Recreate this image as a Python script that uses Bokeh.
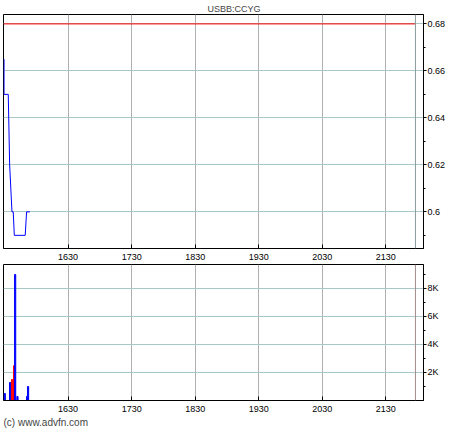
from bokeh.plotting import figure
from bokeh.models import FixedTicker, Range1d, Span, Title, ColumnDataSource
from bokeh.layouts import column
from bokeh.embed import file_html
from bokeh.resources import INLINE

FONT = "Liberation Sans"

title_text = "USBB:CCYG"
credit_text = "(c) www.advfn.com"

# time axis: minutes after midnight
price_time = [929.5, 929.5, 933.5, 934.8, 937.0, 938.2, 939.2, 949.5, 950.8, 954.0]
price_value = [0.665, 0.65, 0.65, 0.62, 0.60, 0.60, 0.59, 0.59, 0.60, 0.60]
ref_price = 0.68

vol_time = [930.2, 935.2, 937.1, 939.0, 940.0, 942.2, 951.3, 952.2]
vol_value = [500, 1290, 1500, 2480, 9000, 290, 290, 1000]
vol_color = ["#0000ff", "#0000ff", "#ff0000", "#ff0000", "#0000ff", "#0000ff", "#0000ff", "#0000ff"]

x_ticks = [990, 1050, 1110, 1170, 1230, 1290]
x_labels = ["1630", "1730", "1830", "1930", "2030", "2130"]
marker_time = 1318

price_ticks = [0.60, 0.62, 0.64, 0.66, 0.68]
price_labels = ["0.6", "0.62", "0.64", "0.66", "0.68"]
price_minor = [0.59, 0.61, 0.63, 0.65, 0.67]

vol_ticks = [2000, 4000, 6000, 8000]
vol_labels = ["2K", "4K", "6K", "8K"]
vol_minor = [1000, 3000, 5000, 7000, 9000]

x_range = Range1d(929.0, 1325.6)

VGRID = "#b0b0b0"
HGRID = "#a8c8c8"


def style_panel(p, yticks, ylabels, yminor):
    p.outline_line_color = "black"
    p.outline_line_width = 1
    p.background_fill_color = "white"
    p.border_fill_color = "white"

    xa = p.xaxis[0]
    xa.ticker = FixedTicker(ticks=x_ticks)
    xa.major_label_overrides = dict(zip(x_ticks, x_labels))
    xa.major_tick_in = 4
    xa.major_tick_out = 0
    xa.minor_tick_in = 0
    xa.minor_tick_out = 0
    xa.major_label_standoff = 5
    xa.major_label_text_font = FONT
    xa.major_label_text_font_size = "9px"
    xa.major_label_text_color = "black"
    xa.axis_line_color = "black"
    xa.major_tick_line_color = "black"

    ya = p.yaxis[0]
    ya.ticker = FixedTicker(ticks=yticks, minor_ticks=yminor)
    ya.major_label_overrides = dict(zip(yticks, ylabels))
    ya.major_tick_in = 0
    ya.major_tick_out = 3
    ya.minor_tick_in = 0
    ya.minor_tick_out = 2
    ya.major_label_standoff = 1
    ya.major_label_text_font = FONT
    ya.major_label_text_font_size = "9px"
    ya.major_label_text_color = "black"
    ya.axis_line_color = "black"

    p.xgrid.grid_line_color = VGRID
    p.ygrid.grid_line_color = HGRID


p1 = figure(frame_width=420, frame_height=234, x_range=x_range,
            y_range=Range1d(0.5844, 0.684), y_axis_location="right",
            output_backend="svg", toolbar_location=None,
            min_border_left=3, min_border_right=37, min_border_top=14, min_border_bottom=16)
style_panel(p1, price_ticks, price_labels, price_minor)
p1.title.text = title_text
p1.title.align = "left"
p1.title.text_font = FONT
p1.title.text_font_size = "9px"
p1.title.text_font_style = "normal"
p1.title.standoff = 1
p1.title.offset = 204

p1.add_layout(Span(location=marker_time, dimension="height", line_color="#8a9a9a", line_width=1))
p1.segment(x0=[x_range.start], y0=[ref_price], x1=[marker_time], y1=[ref_price],
           line_color="#ff0000", line_width=1)
p1.line(price_time, price_value, line_color="#0000ff", line_width=1)

p2 = figure(frame_width=420, frame_height=136, x_range=x_range,
            y_range=Range1d(0, 9714), y_axis_location="right",
            output_backend="svg", toolbar_location=None,
            min_border_left=3, min_border_right=37, min_border_top=0, min_border_bottom=30)
style_panel(p2, vol_ticks, vol_labels, vol_minor)
p2.add_layout(Span(location=marker_time, dimension="height", line_color="#a08c8c", line_width=1))
src = ColumnDataSource(dict(t=vol_time, v=vol_value, c=vol_color))
p2.vbar(x="t", top="v", bottom=0, width=1.1, fill_color="c", line_color="c", source=src)
p2.add_layout(Title(text=credit_text, align="left", text_font=FONT, text_font_size="10px",
                    text_font_style="normal", standoff=0), "below")

layout = column(p1, p2, spacing=0)

open("out.html", "w").write(file_html(layout, INLINE))
